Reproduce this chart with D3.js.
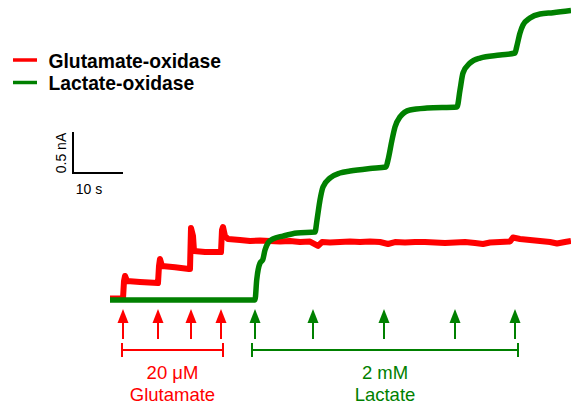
<!doctype html>
<html>
  <head>
    <title>Glutamate / Lactate oxidase</title>
    <style>
      html, body { margin: 0; padding: 0; background: #fff; }
      svg { display: block; font-family: Arial, "Liberation Sans", sans-serif; }
    </style>
  </head>
  <body>
    <div id="chart"></div>
    <script src="https://d3js.org/d3.v7.min.js"></script>
    <script>
      // time in s, current in nA
      var gluTime = [0, 2.6, 2.8, 3.0, 3.4, 6.0, 9.6, 9.8, 10.0, 10.4, 13.0, 15.8, 16.0, 16.2, 16.6, 16.8, 19.0, 22.2, 22.4, 22.6, 23.0, 23.6,
                     26, 28, 30, 32, 34, 36, 38, 40, 41.6, 42.4, 44, 46, 48, 50, 52, 54, 55.6, 57, 59, 61, 63, 65, 67, 69, 71, 73, 74.6,
                     76, 78, 80, 80.6, 82, 84, 86, 88, 89.4, 91, 92.2];
      var gluCurrent = [0.018, 0.018, 0.232, 0.293, 0.232, 0.22, 0.207, 0.415, 0.50, 0.415, 0.40, 0.378, 0.378, 0.878, 0.78, 0.598, 0.585, 0.585, 0.854, 0.89, 0.78, 0.744,
                        0.732, 0.720, 0.726, 0.720, 0.713, 0.720, 0.707, 0.713, 0.659, 0.707, 0.701, 0.707, 0.713, 0.707, 0.713, 0.707, 0.683, 0.707, 0.701, 0.707, 0.707, 0.701, 0.695, 0.701, 0.707, 0.695, 0.683,
                        0.701, 0.707, 0.713, 0.762, 0.744, 0.732, 0.720, 0.707, 0.689, 0.707, 0.720];

      var lacTime = [0, 29, 29.34, 30, 30.54, 31, 31.6, 32.6, 34.6, 37.4, 41, 41.4, 42, 42.6, 44, 46, 48, 52, 55.2, 55.6, 56.4, 57, 58, 60, 63.4, 69.4,
                     70, 70.6, 72, 74, 78, 81, 81.34, 82, 82.6, 84, 86, 88.6, 92.2];
      var lacCurrent = [0, 0, 0.244, 0.451, 0.488, 0.610, 0.695, 0.744, 0.780, 0.817, 0.829, 0.976, 1.220, 1.378, 1.488, 1.549, 1.573, 1.604, 1.622, 1.707, 1.951, 2.110, 2.232, 2.317, 2.341, 2.354,
                        2.561, 2.768, 2.890, 2.951, 2.988, 3.012, 3.089, 3.256, 3.354, 3.439, 3.488, 3.504, 3.530];

      // injection times (s)
      var gluInjections = [2.6, 9.6, 16.2, 22.2];
      var lacInjections = [29, 40.6, 54.8, 69, 81];

      var seriesNames = ["Glutamate-oxidase", "Lactate-oxidase"];
      var seriesColors = ["#ff0000", "#008000"];
      var doseLabels = [["20 \u03bcM", "Glutamate"], ["2 mM", "Lactate"]];
      var scaleBarLabels = ["10 s", "0.5 nA"];

      var width = 571, height = 413;

      var x = d3.scaleLinear().domain([0, 92.2]).range([110, 571]);
      var y = d3.scaleLinear().domain([0, 1]).range([300, 218]);

      var svg = d3.select("#chart").append("svg")
          .attr("width", width)
          .attr("height", height);

      var line = d3.line()
          .x(function(d) { return x(d[0]); })
          .y(function(d) { return y(d[1]); });

      var glu = d3.zip(gluTime, gluCurrent);
      var lac = d3.zip(lacTime, lacCurrent);

      svg.append("path")
          .datum(glu)
          .attr("fill", "none")
          .attr("stroke", seriesColors[0])
          .attr("stroke-width", 6)
          .attr("stroke-linejoin", "round")
          .attr("d", line.curve(d3.curveLinear));

      svg.append("path")
          .datum(lac)
          .attr("fill", "none")
          .attr("stroke", seriesColors[1])
          .attr("stroke-width", 5.5)
          .attr("stroke-linejoin", "round")
          .attr("d", line.curve(d3.curveMonotoneX));

      // legend
      var legend = svg.append("g");
      seriesNames.forEach(function(name, i) {
        var ly = 60 + i * 22.5;
        legend.append("line")
            .attr("x1", 13).attr("x2", 37)
            .attr("y1", ly).attr("y2", ly)
            .attr("stroke", seriesColors[i])
            .attr("stroke-width", 3.5);
        legend.append("text")
            .attr("x", 48.5)
            .attr("y", ly + 7.5)
            .attr("font-size", "19.3px")
            .attr("font-weight", "bold")
            .attr("fill", "#000")
            .text(name);
      });

      // scale bar: 10 s by 0.5 nA
      var sbX = 73, sbY = 173;
      var sbW = x(10) - x(0), sbH = y(0) - y(0.5);
      svg.append("path")
          .attr("d", "M" + sbX + "," + (sbY - sbH) + "V" + sbY + "H" + (sbX + sbW))
          .attr("fill", "none")
          .attr("stroke", "#000")
          .attr("stroke-width", 2);
      svg.append("text")
          .attr("x", sbX + sbW / 2 - 9)
          .attr("y", 194)
          .attr("text-anchor", "middle")
          .attr("font-size", "14px")
          .text(scaleBarLabels[0]);
      svg.append("text")
          .attr("transform", "translate(65.5," + (sbY - sbH / 2 + 0.5) + ") rotate(-90)")
          .attr("text-anchor", "middle")
          .attr("font-size", "14px")
          .text(scaleBarLabels[1]);

      // injection arrows
      function arrows(times, color) {
        var g = svg.append("g");
        times.forEach(function(t) {
          var cx = x(t);
          g.append("line")
              .attr("x1", cx).attr("x2", cx)
              .attr("y1", 320).attr("y2", 339)
              .attr("stroke", color)
              .attr("stroke-width", 2);
          g.append("path")
              .attr("d", "M" + cx + ",309L" + (cx + 5.5) + ",323L" + (cx - 5.5) + ",323Z")
              .attr("fill", color);
        });
      }
      arrows(gluInjections, seriesColors[0]);
      arrows(lacInjections, seriesColors[1]);

      // brackets + dose labels
      var brackets = [[2.4, 22.6], [28.4, 81.6]];
      brackets.forEach(function(b, i) {
        var x0 = x(b[0]), x1 = x(b[1]);
        var color = seriesColors[i];
        svg.append("path")
            .attr("d", "M" + x0 + ",343V357M" + x0 + ",350H" + x1 + "M" + x1 + ",343V357")
            .attr("fill", "none")
            .attr("stroke", color)
            .attr("stroke-width", 2);
        var cx = (x0 + x1) / 2;
        svg.append("text")
            .attr("x", cx)
            .attr("y", 379)
            .attr("text-anchor", "middle")
            .attr("font-size", "18.5px")
            .attr("fill", color)
            .text(doseLabels[i][0]);
        svg.append("text")
            .attr("x", cx)
            .attr("y", 401)
            .attr("text-anchor", "middle")
            .attr("font-size", "18.5px")
            .attr("fill", color)
            .text(doseLabels[i][1]);
      });
    </script>
  </body>
</html>
